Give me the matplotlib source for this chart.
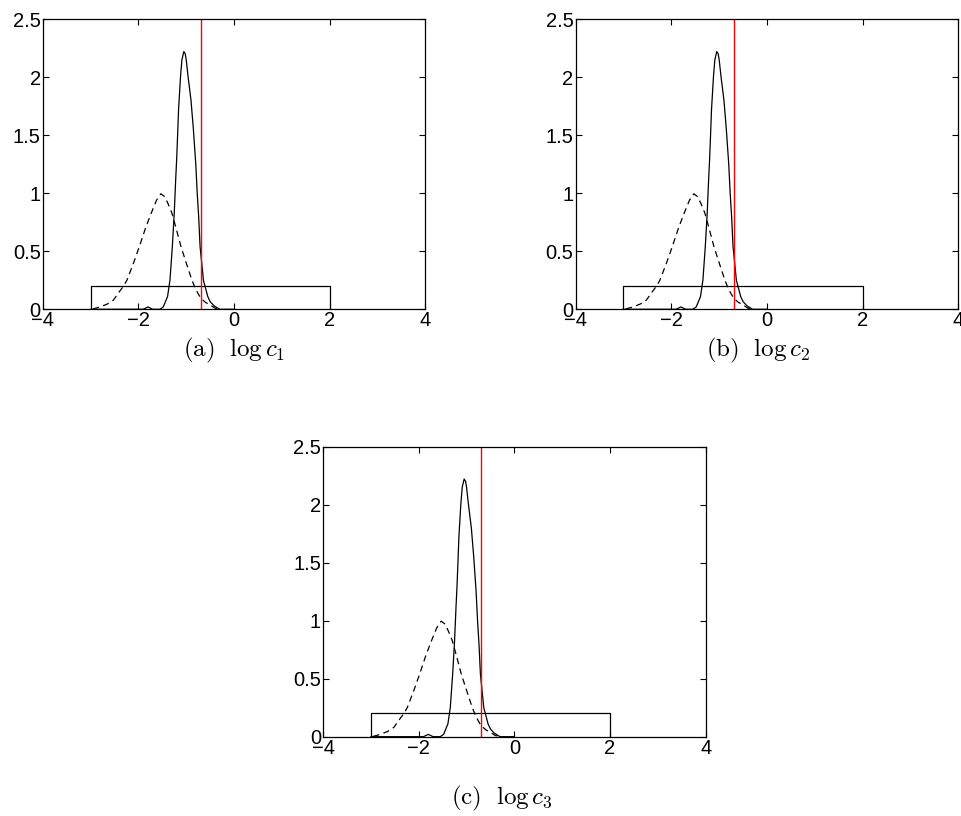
import matplotlib
matplotlib.use('Agg')
import matplotlib.pyplot as plt

plt.rcParams['font.family'] = ['Liberation Sans', 'DejaVu Sans']
plt.rcParams['mathtext.fontset'] = 'cm'

# posterior density of log c (solid)
post_x = [-3.00, -1.90, -1.85, -1.80, -1.75, -1.70, -1.55, -1.48, -1.39, -1.34,
          -1.29, -1.25, -1.22, -1.20, -1.18, -1.16, -1.12, -1.09, -1.05, -1.02,
          -1.00, -0.96, -0.90, -0.85, -0.80, -0.77, -0.74, -0.71, -0.64, -0.55,
          -0.50, -0.42, -0.30, 0.00]
post_y = [0.00, 0.00, 0.01, 0.02, 0.01, 0.00, 0.00, 0.02, 0.11, 0.25,
          0.54, 0.83, 1.12, 1.29, 1.50, 1.72, 2.00, 2.15, 2.22, 2.20,
          2.15, 2.00, 1.80, 1.55, 1.25, 1.00, 0.80, 0.54, 0.25, 0.11,
          0.066, 0.03, 0.00, 0.00]

# second density estimate (dashed)
alt_x = [-2.95, -2.80, -2.65, -2.52, -2.40, -2.31, -2.24, -2.10, -1.98, -1.85,
         -1.73, -1.62, -1.53, -1.45, -1.38, -1.30, -1.20, -1.11, -1.00, -0.88,
         -0.83, -0.76, -0.695, -0.60, -0.50, -0.40, -0.30]
alt_y = [0.003, 0.02, 0.045, 0.08, 0.15, 0.20, 0.25, 0.40, 0.54, 0.70,
         0.83, 0.94, 0.995, 0.97, 0.91, 0.83, 0.68, 0.54, 0.40, 0.25,
         0.20, 0.14, 0.095, 0.06, 0.037, 0.01, 0.00]

# uniform prior on log c
prior_lo, prior_hi, prior_density = -3.0, 2.0, 0.2
true_log_c = -0.69

captions = [r'$\mathrm{(a)}\ \ \log c_1$', r'$\mathrm{(b)}\ \ \log c_2$',
            r'$\mathrm{(c)}\ \ \log c_3$']

fig = plt.figure(figsize=(9.62, 8.16), dpi=100)
W, H = 0.3978, 0.3556
rects = [[0.0444, 0.6210, W, H], [0.5984, 0.6210, W, H], [0.3358, 0.0972, W, H]]
cap_pos = [(0.2432, 0.5700), (0.7880, 0.5700), (0.5220, 0.0220)]

for rect, cap, (cx, cy) in zip(rects, captions, cap_pos):
    ax = fig.add_axes(rect)
    ax.plot([prior_lo, prior_lo, prior_hi, prior_hi], [0, prior_density, prior_density, 0],
            color='k', lw=0.9)
    ax.plot(alt_x, alt_y, color='k', lw=0.9, linestyle=(0, (5, 3.5)))
    ax.plot(post_x, post_y, color='k', lw=0.9)
    ax.axvline(true_log_c, color='red', lw=1.0)
    ax.set_xlim(-4, 4)
    ax.set_ylim(0, 2.5)
    ax.set_xticks([-4, -2, 0, 2, 4])
    ax.set_xticklabels(['\u22124', '\u22122', '0', '2', '4'])
    ax.set_yticks([0, 0.5, 1, 1.5, 2, 2.5])
    ax.set_yticklabels(['0', '0.5', '1', '1.5', '2', '2.5'])
    ax.tick_params(direction='in', length=4, width=0.8, top=True, right=True,
                   labelsize=14.5, pad=1.5)
    for s in ax.spines.values():
        s.set_linewidth(0.9)
    fig.text(cx, cy, cap, ha='center', va='center', fontsize=18)

fig.savefig('out.png', dpi=100)
